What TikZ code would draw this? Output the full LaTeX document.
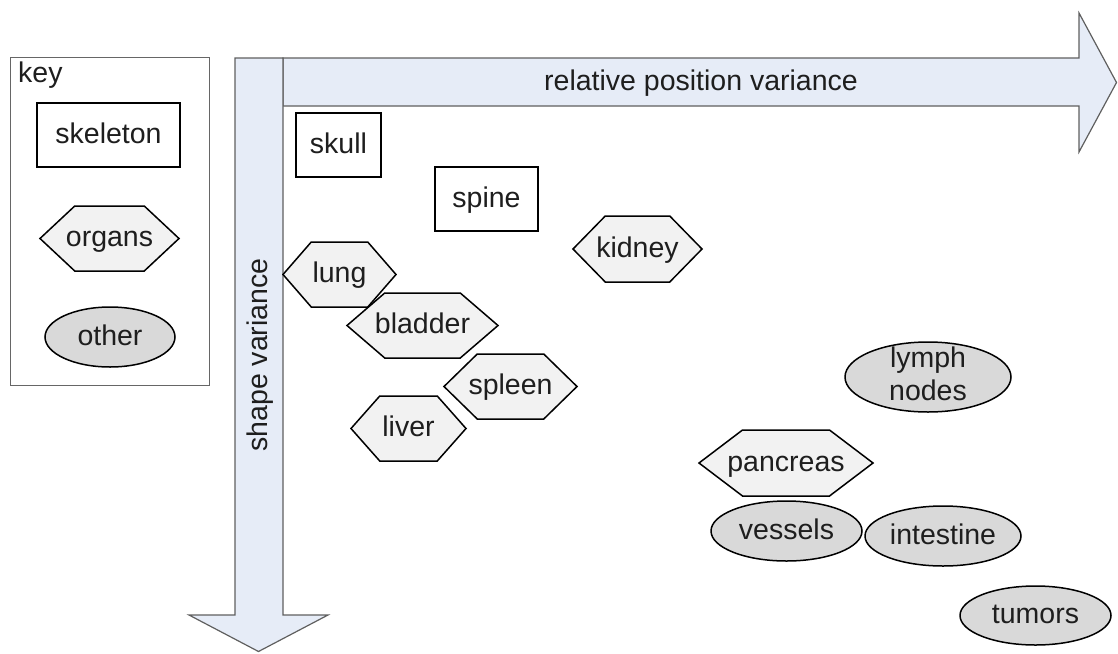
\documentclass[tikz,border=0pt]{standalone}
\usepackage{fontspec}
\setmainfont{Liberation Sans}
\usetikzlibrary{calc,shapes.geometric}

\definecolor{arrowfill}{HTML}{E6ECF7}
\definecolor{arrowline}{HTML}{5F5F5F}
\definecolor{organfill}{HTML}{F2F2F2}
\definecolor{otherfill}{HTML}{D9D9D9}
\definecolor{ink}{HTML}{1E1E1E}

% hexagon for an organ: name, centre x, centre y, width, height, text
\newcommand\organshape[6]{%
  \draw[organline]
    ({#2-#4/2},#3) -- ({#2-#4/4},{#3-#5/2}) -- ({#2+#4/4},{#3-#5/2})
    -- ({#2+#4/2},#3) -- ({#2+#4/4},{#3+#5/2}) -- ({#2-#4/4},{#3+#5/2}) -- cycle;
  \node[lbl] (#1) at (#2,#3) {#6};}

\begin{document}
\begin{tikzpicture}[x=1pt,y=-1pt,
  lbl/.style={font=\fontsize{28.5}{33}\selectfont, text=ink, inner sep=0pt,
              text height=20pt, text depth=4pt},
  skel/.style={lbl, draw=black, line width=1.5pt, fill=white, rectangle},
  organline/.style={draw=black, line width=1.5pt, fill=organfill, line join=miter},
  other/.style={lbl, draw=black, line width=1.5pt, fill=otherfill, ellipse},
  bigarrow/.style={draw=arrowline, line width=1.2pt, fill=arrowfill, line join=miter},
  keybox/.style={draw=black!60, line width=1pt}]
\useasboundingbox (0,0) rectangle (1118,653);

% axes
\draw[bigarrow] (283,58) -- (1079,58) -- (1079,13) -- (1116.5,82.5) -- (1079,152)
  -- (1079,106) -- (283,106) -- cycle;
\draw[bigarrow] (235,58) -- (283,58) -- (283,615) -- (328,615) -- (258.5,651.5)
  -- (189,615) -- (235,615) -- cycle;
\node[lbl] (xaxis) at (701,82) {relative position variance};
\node[lbl, rotate=90] (yaxis) at (259,355) {shape variance};

% key
\node[keybox, minimum width=199pt, minimum height=328pt, inner sep=0pt] (key) at (109.5,221) {};
\node[lbl, anchor=base west, text height=, text depth=] (keylabel) at (18,82) {key};
\node[skel, minimum width=143pt, minimum height=64pt] (kskel) at (108.5,135) {skeleton};
\organshape{korgan}{109.5}{238.5}{139}{65}{organs}
\node[other, minimum width=130pt, minimum height=60pt] (kother) at (110,337) {other};

% skeleton
\node[skel, minimum width=85pt, minimum height=64pt] (skull) at (338.5,145) {skull};
\node[skel, minimum width=103pt, minimum height=64pt] (spine) at (486.5,199) {spine};

% organs
\organshape{kidney}{637.5}{249}{129}{66}{kidney}
\organshape{lung}{339.5}{274.5}{113}{65}{lung}
\organshape{bladder}{422.5}{325.5}{151}{65}{bladder}
\organshape{spleen}{510.5}{386.5}{133}{65}{spleen}
\organshape{liver}{408.5}{428.5}{115}{65}{liver}
\organshape{pancreas}{786}{463}{174}{66}{pancreas}

% other structures
\node[other, minimum width=166pt, minimum height=70pt] (lymph) at (928,377) {};
\node[lbl, align=center, text height=, text depth=] (lymphlabel) at (928,374) {lymph\\nodes};
\node[other, minimum width=151pt, minimum height=60pt] (vessels) at (786.5,531) {vessels};
\node[other, minimum width=156pt, minimum height=60pt] (intestine) at (943,536) {intestine};
\node[other, minimum width=151pt, minimum height=59pt] (tumors) at (1035.5,615.5) {tumors};
\end{tikzpicture}
\end{document}
